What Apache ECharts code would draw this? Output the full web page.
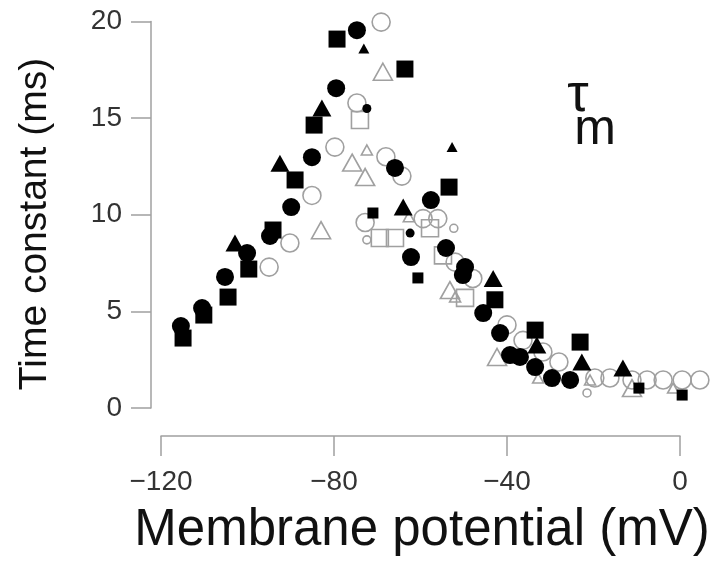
<!DOCTYPE html>
<html>
<head>
<meta charset="utf-8">
<script src="https://cdn.jsdelivr.net/npm/echarts@6/dist/echarts.min.js"></script>
<style>
html,body{margin:0;padding:0;background:#fff;}
#chart{width:715px;height:563px;}
</style>
</head>
<body>
<div id="chart"></div>
<script>
// Tick values
var xTicks = [-120, -80, -40, 0];
var yTicks = [0, 5, 10, 15, 20];

// Series values: [membrane potential (mV), time constant (ms)]
var filledCircles = [[-115.4,4.24],[-110.5,5.17],[-105.2,6.78],[-100.1,8.02],[-94.8,8.90],[-89.9,10.40],[-85.1,12.98],[-79.5,16.55],[-74.7,19.55],[-65.9,12.42],[-57.6,10.76],[-62.2,7.81],[-54.1,8.28],[-49.7,7.29],[-50.2,6.88],[-45.5,4.91],[-41.6,3.88],[-39.3,2.74],[-37.0,2.64],[-33.5,2.12],[-29.6,1.55],[-25.4,1.45]];
var filledSquares = [[-114.9,3.62],[-110.1,4.81],[-104.5,5.74],[-99.7,7.19],[-94.1,9.21],[-89.0,11.8],[-84.6,14.64],[-79.3,19.09],[-63.6,17.54],[-53.4,11.43],[-42.8,5.6],[-33.5,4.03],[-23.1,3.41]];
var smallFilledSquares = [[-71.0,10.09],[-60.6,6.73],[-9.5,1.03],[0.5,0.67]];
var filledTriangles = [[-102.9,8.54],[-92.5,12.67],[-82.8,15.52],[-64.0,10.4],[-43.2,6.7],[-33.1,3.26],[-22.7,2.38],[-13.2,2.07]];
var smallFilledTriangles = [[-73.1,18.6],[-52.7,13.5]];
var smallFilledCircles = [[-72.4,15.5],[-62.4,9.05]];
var openCircles = [[-95.0,7.29],[-90.2,8.54],[-85.1,11.0],[-79.8,13.5],[-69.1,19.97],[-74.7,15.78],[-68.0,13.0],[-64.3,12.0],[-72.8,9.6],[-59.4,9.8],[-56.0,9.8],[-52.0,7.55],[-47.9,6.7],[-40.0,4.3],[-36.3,3.5],[-31.7,2.9],[-28.0,2.38],[-19.7,1.55],[-16.2,1.55],[-11.1,1.45],[-7.6,1.45],[-3.9,1.45],[0.5,1.45],[4.6,1.45]];
var smallOpenCircles = [[-52.3,9.3],[-72.4,8.7],[-21.5,0.78]];
var openTriangles = [[-68.7,17.4],[-75.8,12.7],[-72.8,11.95],[-83.0,9.2],[-53.2,6.1],[-42.3,2.64],[-11.1,1.03]];
var smallOpenTriangles = [[-72.4,13.35],[-62.7,9.9],[-52.0,5.74],[-32.8,1.55],[-20.8,1.45],[-1.6,1.03]];
var openSquares = [[-74.0,14.9],[-69.4,8.8],[-65.9,8.8],[-57.8,9.3],[-54.8,7.9],[-49.7,5.7]];

var xTitle = 'Membrane potential (mV)';
var yTitle = 'Time constant (ms)';

var chart = echarts.init(document.getElementById('chart'), null, {renderer: 'canvas'});
var GRAY = '#a0a0a0';
var openStyle = {color: 'rgba(255,255,255,0)', borderColor: GRAY, borderWidth: 1.6, opacity: 1};
var fillStyle = {color: '#000', opacity: 1};
function s(data, symbol, size, style) {
  return {type: 'scatter', data: data, symbol: symbol, symbolSize: size, itemStyle: style, clip: false, silent: true, animation: false};
}
var font = 'Liberation Sans, Arial, sans-serif';
chart.setOption({
  animation: false,
  grid: {left: 161, right: 35, top: 21.5, bottom: 155},
  xAxis: {
    type: 'value', min: xTicks[0], max: xTicks[xTicks.length-1], interval: 40,
    offset: 28, splitLine: {show: false},
    axisLine: {onZero: false, lineStyle: {color: GRAY, width: 1.5}},
    axisTick: {length: 20, lineStyle: {color: GRAY, width: 1.5}},
    axisLabel: {fontSize: 28, color: '#333', margin: 32, fontFamily: font,
      formatter: function(v){ return v < 0 ? '\u2212' + (-v) : '' + v; }}
  },
  yAxis: {
    type: 'value', min: yTicks[0], max: yTicks[yTicks.length-1], interval: 5,
    offset: 10, splitLine: {show: false},
    axisLine: {show: true, onZero: false, lineStyle: {color: GRAY, width: 1.5}},
    axisTick: {show: true, length: 20, lineStyle: {color: GRAY, width: 1.5}},
    axisLabel: {fontSize: 28, color: '#333', margin: 29, fontFamily: font}
  },
  series: [
    s(openCircles, 'circle', 18, openStyle),
    s(smallOpenCircles, 'circle', 8, openStyle),
    s(openTriangles, 'triangle', [19, 17], openStyle),
    s(smallOpenTriangles, 'triangle', [11, 10], openStyle),
    s(openSquares, 'rect', 17, openStyle),
    s(filledSquares, 'rect', 17, fillStyle),
    s(smallFilledSquares, 'rect', 11, fillStyle),
    s(filledTriangles, 'triangle', [19, 17], fillStyle),
    s(smallFilledTriangles, 'triangle', [11, 10], fillStyle),
    s(filledCircles, 'circle', 18, fillStyle),
    s(smallFilledCircles, 'circle', 9, fillStyle)
  ],
  graphic: [
    {type: 'text', style: {text: xTitle, x: 422, y: 531, fontSize: 51, fontFamily: font, fill: '#111', textAlign: 'center', textVerticalAlign: 'middle'}},
    {type: 'text', x: 35, y: 224, rotation: Math.PI/2, style: {text: yTitle, x: 0, y: 0, fontSize: 39, fontFamily: font, fill: '#111', textAlign: 'center', textVerticalAlign: 'middle'}},
    {type: 'text', style: {text: '\u03c4', x: 578, y: 96, fontSize: 54, fontFamily: font, fill: '#111', textAlign: 'center', textVerticalAlign: 'middle'}},
    {type: 'text', style: {text: 'm', x: 595, y: 130, fontSize: 50, fontFamily: font, fill: '#111', textAlign: 'center', textVerticalAlign: 'middle'}}
  ]
});
</script>
</body>
</html>
